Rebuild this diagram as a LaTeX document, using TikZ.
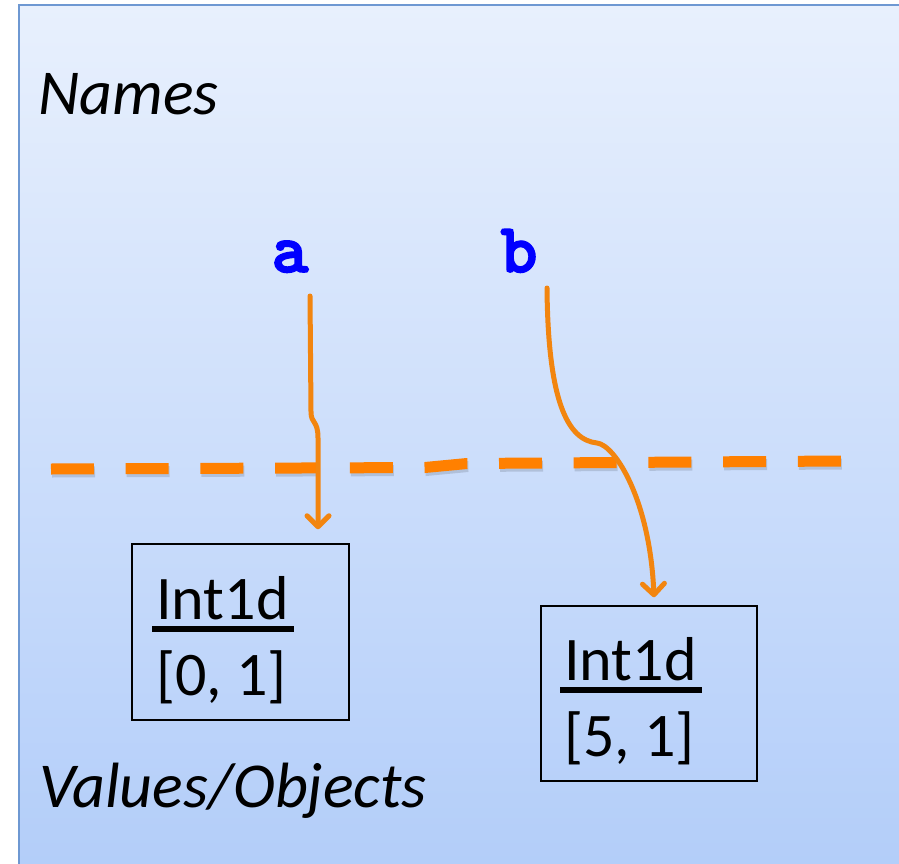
\documentclass[tikz,border=0pt]{standalone}
\usepackage{fontspec}
\setmainfont{Carlito}
\newfontfamily\codefont{lmmonolt10-bold}[Extension=.otf, FakeBold=2.5]
\usetikzlibrary{arrows.meta}
\definecolor{panelTop}{HTML}{E8F0FD}
\definecolor{panelMid}{HTML}{D0E1FB}
\definecolor{panelBot}{HTML}{B2CDF9}
\definecolor{panelEdge}{HTML}{6E98D2}
\definecolor{refOrange}{HTML}{F2850F}
\definecolor{dashOrange}{HTML}{FF8000}
\definecolor{codeBlue}{HTML}{0000FF}
% thick underline that overhangs the word a little on both sides
\newcommand\ulword[1]{\setbox0=\hbox{#1}\rlap{\kern-4pt\vrule width \dimexpr\wd0+9pt\relax height -7pt depth 12.5pt}\box0}
\begin{document}
\begin{tikzpicture}[x=1pt,y=-1pt,
  sectionlabel/.style={font=\fontsize{64}{70}\selectfont\itshape, inner sep=0pt},
  varname/.style={font=\codefont\fontsize{70}{74}\selectfont, text=codeBlue, inner sep=0pt},
  objbox/.style={draw=black, line width=1.5pt, rectangle, inner sep=0pt},
  objtext/.style={font=\fontsize{62}{70}\selectfont, inner sep=0pt},
  divider/.style={dashOrange, line width=11pt, dash pattern=on 43pt off 31.7pt},
  ref/.style={refOrange, line width=5pt, line cap=round, line join=round,
    -{Straight Barb[length=11pt,width=22pt,round]}}]
\useasboundingbox (0,0) rectangle (899,864);
% slide panel with its gradient and edge
\begin{scope}
  \clip (0,0) rectangle (899,864);
  \fill[white] (0,0) rectangle (899,864);
  \shade[top color=panelTop, middle color=panelMid, bottom color=panelBot] (19,5) rectangle (910,880);
  \draw[panelEdge, line width=2.5pt] (19,880) -- (19,5) -- (910,5);
\end{scope}

% section labels
\node[sectionlabel, anchor=base west] (names) at (38,114) {Names};
\node[sectionlabel, anchor=base west] (values) at (39,807) {Values/Objects};

% variable names
\node[varname, anchor=base] (a) at (290,272) {a};
\node[varname, anchor=base] (b) at (519,272) {b};

% boundary between names and values
\begin{scope}[shift={(1,3)}]
  \draw[divider, black, opacity=0.13] (51,469) -- (425,467.5) -- (467,463.5) -- (841,461);
\end{scope}
\draw[divider] (51,469) -- (425,467.5) -- (467,463.5) -- (841,461);

% value objects
\node[objbox, minimum width=217pt, minimum height=176pt] (v0) at (240.5,632) {};
\node[objtext, anchor=base west] (v0type) at (156,619) {\ulword{Int1d}};
\node[objtext, anchor=base west] (v0val) at (156,695) {[0, 1]};

\node[objbox, minimum width=216pt, minimum height=175pt] (v1) at (649,693.5) {};
\node[objtext, anchor=base west] (v1type) at (564,680) {\ulword{Int1d}};
\node[objtext, anchor=base west] (v1val) at (564,756) {[5, 1]};

% references from names to objects
\draw[ref] ([shift={(20,24)}]a.base) -- (311,412)
  .. controls (311,424) and (318,420) .. (318,438)
  -- ([shift={(77.5,-14)}]v0.north);
\draw[ref] ([shift={(28,16)}]b.base)
  .. controls (548,400) and (567,440) .. (597,443)
  .. controls (615,445) and (650,500) .. ([shift={(5,-8)}]v1.north);
\end{tikzpicture}
\end{document}
